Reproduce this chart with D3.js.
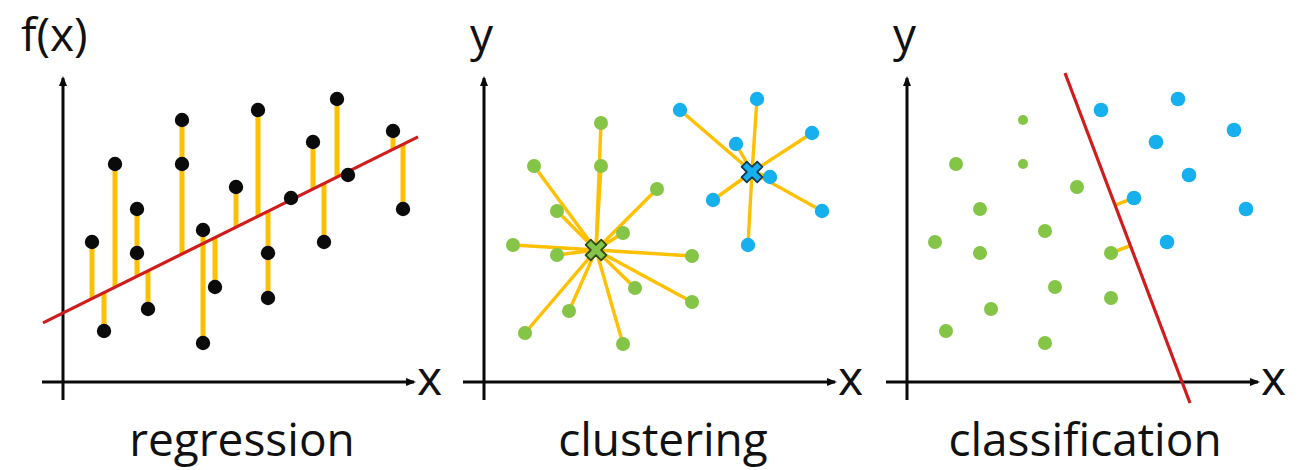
<!DOCTYPE html>
<html>
<head>
<meta charset="utf-8">
<script src="https://cdn.jsdelivr.net/npm/d3@7"></script>
<style>
  html, body { margin: 0; padding: 0; background: #fff; }
  svg { display: block; }
  text { font-family: "Open Sans", Lato, sans-serif; fill: #111; }
</style>
</head>
<body>
<svg id="chart" width="1302" height="470"></svg>
<script>
// ---------- DATA (units: 1 unit = one grid step along each axis) ----------
const panelTitles = ["regression", "clustering", "classification"];
const yAxisLabels = ["f(x)", "y", "y"];
const xAxisLabels = ["x", "x", "x"];

// Regression panel: observed points
const regX = [2.9, 4.1, 5.2, 7.4, 7.4, 8.5, 11.9, 11.9, 14.0, 14.0, 15.2, 17.3, 19.5, 20.5, 20.5, 22.8, 25.0, 26.1, 27.4, 28.5, 33.0, 34.0];
const regY = [14.0, 5.1, 21.8, 17.3, 12.9, 7.3, 26.2, 21.8, 15.2, 3.9, 9.5, 19.5, 27.2, 12.9, 8.4, 18.4, 24.0, 14.0, 28.3, 20.7, 25.1, 17.3];
// Fitted regression line f(x) = a + b x, drawn between these x values
const regIntercept = 6.9;
const regSlope = 0.496;
const regLineX = [-2.0, 35.5];

// Clustering panel
const clusterGreenX = [11.7, 11.7, 5.0, 17.3, 7.3, 13.9, 2.9, 7.3, 20.8, 15.1, 20.8, 8.5, 4.1, 13.9];
const clusterGreenY = [25.9, 21.6, 21.6, 19.3, 17.1, 14.9, 13.7, 12.7, 12.6, 9.4, 8.0, 7.1, 4.9, 3.8];
const clusterBlueX = [19.6, 27.3, 25.2, 32.8, 28.6, 22.9, 33.8, 26.4];
const clusterBlueY = [27.2, 28.3, 23.8, 24.9, 20.5, 18.2, 17.1, 13.7];
const centroidX = [11.2, 26.8];
const centroidY = [13.2, 21.0];

// Classification panel
const classGreenX = [11.6, 4.9, 11.6, 17.0, 7.3, 13.8, 2.8, 7.3, 20.4, 14.8, 20.4, 8.4, 3.9, 13.8];
const classGreenY = [26.2, 21.8, 21.8, 19.5, 17.3, 15.1, 14.0, 12.9, 12.9, 9.5, 8.4, 7.3, 5.1, 3.9];
const classGreenSmall = [true, false, true, false, false, false, false, false, false, false, false, false, false, false];
const classBlueX = [19.4, 27.1, 32.7, 24.9, 28.2, 22.7, 33.9, 26.0];
const classBlueY = [27.2, 28.3, 25.2, 24.0, 20.7, 18.4, 17.3, 14.0];
const boundaryX = [15.8, 28.3];
const boundaryY = [30.9, -2.1];
const supportGreen = [8];
const supportBlue = [5];

// Axis extents
const axisXExtent = [-2.1, 35.1];
const axisYExtent = [-1.8, 30.4];

// ---------- STYLE ----------
const BLACK = "#0a0a0a";
const YELLOW = "#ffc000";
const RED = "#d01c1c";
const GREEN = "#84c446";
const BLUE = "#17b0ee";
const panelOrigins = [[63, 382], [484, 382], [907, 382]];
const titleCenters = [242, 663, 1085];
const UNIT = 10;

const svg = d3.select("#chart");
const defs = svg.append("defs");
defs.append("marker")
  .attr("id", "arrow")
  .attr("markerUnits", "userSpaceOnUse")
  .attr("viewBox", "0 -5 10 10")
  .attr("refX", 8).attr("refY", 0)
  .attr("markerWidth", 11).attr("markerHeight", 10)
  .attr("orient", "auto")
  .append("path").attr("d", "M0,-4L10,0L0,4Z").attr("fill", BLACK);

function makePanel(i) {
  const [ox, oy] = panelOrigins[i];
  const x = d3.scaleLinear().domain([0, 1]).range([ox, ox + UNIT]);
  const y = d3.scaleLinear().domain([0, 1]).range([oy, oy - UNIT]);
  const g = svg.append("g");
  // axes
  g.append("line")
    .attr("x1", x(axisXExtent[0])).attr("x2", x(axisXExtent[1]))
    .attr("y1", y(0)).attr("y2", y(0))
    .attr("stroke", BLACK).attr("stroke-width", 3)
    .attr("marker-end", "url(#arrow)");
  g.append("line")
    .attr("x1", x(0)).attr("x2", x(0))
    .attr("y1", y(axisYExtent[0])).attr("y2", y(axisYExtent[1]))
    .attr("stroke", BLACK).attr("stroke-width", 3)
    .attr("marker-end", "url(#arrow)");
  // labels
  g.append("text")
    .attr("x", x(axisXExtent[1]) + 3).attr("y", y(0) + 13)
    .attr("font-size", 48).text(xAxisLabels[i]);
  g.append("text")
    .attr("x", i === 0 ? x(0) - 42 : x(0) - 14).attr("y", 51)
    .attr("font-size", 46).text(yAxisLabels[i]);
  g.append("text")
    .attr("x", titleCenters[i]).attr("y", 456)
    .attr("text-anchor", "middle")
    .attr("font-size", 46).text(panelTitles[i]);
  return { g, x, y };
}

// ---------- Regression ----------
(function () {
  const { g, x, y } = makePanel(0);
  const f = v => regIntercept + regSlope * v;
  // group points by x so stacked points share one residual bar
  const groups = d3.groups(d3.range(regX.length), k => regX[k]);
  groups.forEach(([xv, idx]) => {
    const ys = idx.map(k => regY[k]).concat([f(xv)]);
    g.append("line")
      .attr("x1", x(xv)).attr("x2", x(xv))
      .attr("y1", y(d3.min(ys))).attr("y2", y(d3.max(ys)))
      .attr("stroke", YELLOW).attr("stroke-width", 5);
  });
  g.append("line")
    .attr("x1", x(regLineX[0])).attr("y1", y(f(regLineX[0])))
    .attr("x2", x(regLineX[1])).attr("y2", y(f(regLineX[1])))
    .attr("stroke", RED).attr("stroke-width", 3.2);
  g.selectAll("circle.pt").data(d3.range(regX.length)).join("circle")
    .attr("cx", k => x(regX[k])).attr("cy", k => y(regY[k]))
    .attr("r", 7.2).attr("fill", BLACK);
})();

// ---------- Clustering ----------
(function () {
  const { g, x, y } = makePanel(1);
  const sets = [
    { xs: clusterGreenX, ys: clusterGreenY, c: 0, col: GREEN, r: 7, stroke: "#2f4a1a" },
    { xs: clusterBlueX, ys: clusterBlueY, c: 1, col: BLUE, r: 7.2, stroke: "#123a55" }
  ];
  sets.forEach(s => {
    d3.range(s.xs.length).forEach(k => {
      g.append("line")
        .attr("x1", x(s.xs[k])).attr("y1", y(s.ys[k]))
        .attr("x2", x(centroidX[s.c])).attr("y2", y(centroidY[s.c]))
        .attr("stroke", YELLOW).attr("stroke-width", 3.4);
    });
  });
  sets.forEach(s => {
    g.selectAll(null).data(d3.range(s.xs.length)).join("circle")
      .attr("cx", k => x(s.xs[k])).attr("cy", k => y(s.ys[k]))
      .attr("r", s.r).attr("fill", s.col);
  });
  const cross = d3.symbol().type(d3.symbolCross).size(270);
  sets.forEach(s => {
    g.append("path")
      .attr("d", cross())
      .attr("transform", `translate(${x(centroidX[s.c])},${y(centroidY[s.c])}) rotate(45)`)
      .attr("fill", s.col).attr("stroke", s.stroke).attr("stroke-width", 1.8)
      .attr("stroke-linejoin", "round");
  });
})();

// ---------- Classification ----------
(function () {
  const { g, x, y } = makePanel(2);
  const p1 = [boundaryX[0], boundaryY[0]], p2 = [boundaryX[1], boundaryY[1]];
  const foot = (px, py) => {
    const dx = p2[0] - p1[0], dy = p2[1] - p1[1];
    const t = ((px - p1[0]) * dx + (py - p1[1]) * dy) / (dx * dx + dy * dy);
    return [p1[0] + t * dx, p1[1] + t * dy];
  };
  const supports = supportGreen.map(k => [classGreenX[k], classGreenY[k]])
    .concat(supportBlue.map(k => [classBlueX[k], classBlueY[k]]));
  supports.forEach(([px, py]) => {
    const [fx, fy] = foot(px, py);
    g.append("line")
      .attr("x1", x(px)).attr("y1", y(py)).attr("x2", x(fx)).attr("y2", y(fy))
      .attr("stroke", YELLOW).attr("stroke-width", 3.5);
  });
  g.append("line")
    .attr("x1", x(p1[0])).attr("y1", y(p1[1]))
    .attr("x2", x(p2[0])).attr("y2", y(p2[1]))
    .attr("stroke", RED).attr("stroke-width", 3.2);
  g.selectAll(null).data(d3.range(classGreenX.length)).join("circle")
    .attr("cx", k => x(classGreenX[k])).attr("cy", k => y(classGreenY[k]))
    .attr("r", k => classGreenSmall[k] ? 5 : 7).attr("fill", GREEN);
  g.selectAll(null).data(d3.range(classBlueX.length)).join("circle")
    .attr("cx", k => x(classBlueX[k])).attr("cy", k => y(classBlueY[k]))
    .attr("r", 7.3).attr("fill", BLUE);
})();
</script>
</body>
</html>
